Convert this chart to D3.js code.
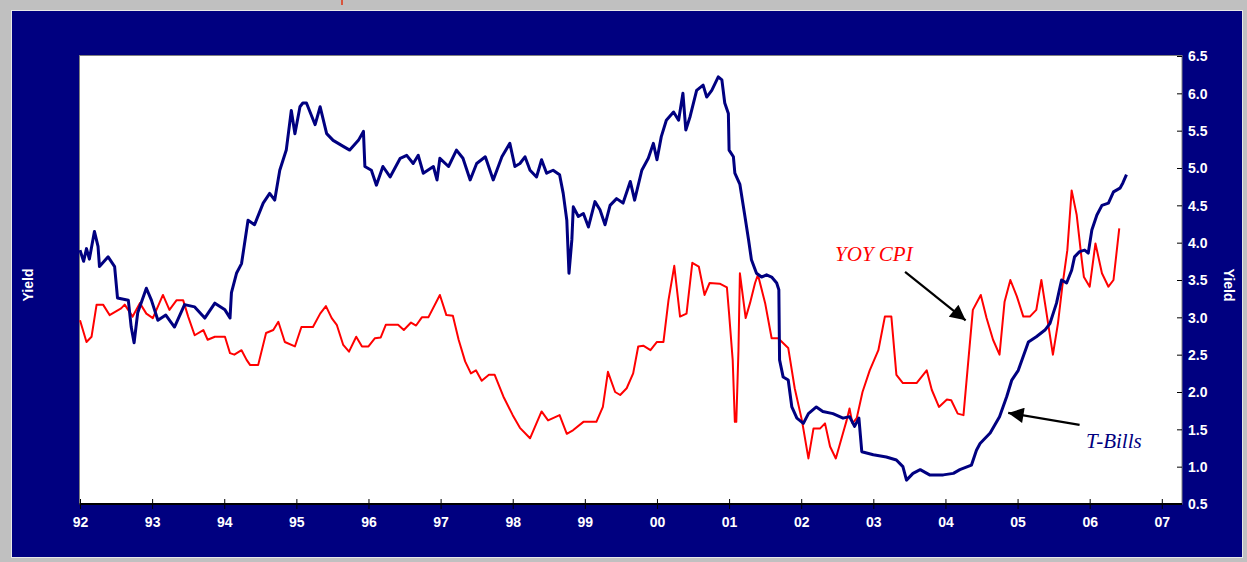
<!DOCTYPE html>
<html>
<head>
<meta charset="utf-8">
<script src="https://cdn.jsdelivr.net/npm/d3@7"></script>
<style>
  body { margin: 0; background: #c0c0c0; }
  svg { display: block; }
  .tick text { fill: #fff; font-family: "Liberation Sans", Arial, sans-serif; font-weight: bold; font-size: 14px; }
</style>
</head>
<body>
<div id="chart"></div>
<script>
// T-Bill yield (decimal years / percent)
const tbillYears = [
  1992.00, 1992.05, 1992.09, 1992.13, 1992.20, 1992.25, 1992.27, 1992.39, 1992.48, 1992.52,
  1992.67, 1992.71, 1992.75, 1992.80, 1992.92, 1992.99, 1993.08, 1993.19, 1993.31, 1993.45,
  1993.59, 1993.73, 1993.87, 1994.01, 1994.08, 1994.10, 1994.17, 1994.24, 1994.33, 1994.42,
  1994.54, 1994.63, 1994.70, 1994.77, 1994.86, 1994.93, 1994.98, 1995.05, 1995.09, 1995.14,
  1995.26, 1995.33, 1995.42, 1995.51, 1995.65, 1995.74, 1995.86, 1995.93, 1995.95, 1996.04,
  1996.11, 1996.20, 1996.30, 1996.44, 1996.53, 1996.62, 1996.69, 1996.76, 1996.90, 1996.95,
  1996.99, 1997.11, 1997.22, 1997.31, 1997.41, 1997.50, 1997.62, 1997.73, 1997.85, 1997.96,
  1998.03, 1998.10, 1998.17, 1998.24, 1998.33, 1998.40, 1998.47, 1998.56, 1998.65, 1998.70,
  1998.75, 1998.78, 1998.82, 1998.84, 1998.91, 1998.98, 1999.05, 1999.14, 1999.21, 1999.28,
  1999.35, 1999.44, 1999.53, 1999.63, 1999.69, 1999.79, 1999.88, 1999.95, 2000.00, 2000.06,
  2000.13, 2000.23, 2000.30, 2000.36, 2000.40, 2000.46, 2000.55, 2000.64, 2000.69, 2000.76,
  2000.85, 2000.90, 2000.94, 2000.99, 2001.00, 2001.06, 2001.08, 2001.15, 2001.22, 2001.27,
  2001.31, 2001.38, 2001.45, 2001.52, 2001.59, 2001.66, 2001.69, 2001.70, 2001.75, 2001.82,
  2001.87, 2001.94, 2002.03, 2002.10, 2002.21, 2002.30, 2002.44, 2002.58, 2002.67, 2002.74,
  2002.80, 2002.84, 2003.00, 2003.18, 2003.32, 2003.41, 2003.46, 2003.55, 2003.65, 2003.78,
  2003.97, 2004.11, 2004.20, 2004.36, 2004.43, 2004.48, 2004.62, 2004.75, 2004.85, 2004.92,
  2005.01, 2005.15, 2005.26, 2005.38, 2005.45, 2005.54, 2005.61, 2005.68, 2005.75, 2005.79,
  2005.86, 2005.93, 2005.98, 2006.03, 2006.10, 2006.17, 2006.26, 2006.33, 2006.42, 2006.46,
  2006.51
];
const tbillValues = [
  3.90, 3.75, 3.92, 3.78, 4.15, 3.95, 3.68, 3.81, 3.68, 3.26,
  3.23, 2.87, 2.66, 3.06, 3.39, 3.23, 2.96, 3.03, 2.87, 3.17,
  3.14, 2.99, 3.19, 3.10, 2.99, 3.33, 3.59, 3.72, 4.30, 4.24,
  4.53, 4.66, 4.57, 4.97, 5.24, 5.77, 5.46, 5.82, 5.87, 5.87,
  5.58, 5.82, 5.46, 5.37, 5.29, 5.24, 5.37, 5.49, 5.02, 4.97,
  4.77, 5.02, 4.88, 5.13, 5.17, 5.06, 5.17, 4.93, 5.02, 4.84,
  5.13, 5.02, 5.24, 5.13, 4.84, 5.06, 5.15, 4.84, 5.15, 5.33,
  5.02, 5.06, 5.15, 4.97, 4.88, 5.11, 4.93, 4.97, 4.91, 4.66,
  4.30, 3.59, 4.04, 4.48, 4.35, 4.39, 4.21, 4.55, 4.44, 4.24,
  4.50, 4.59, 4.53, 4.82, 4.57, 4.97, 5.13, 5.33, 5.11, 5.42,
  5.64, 5.75, 5.64, 6.00, 5.51, 5.69, 6.04, 6.11, 5.95, 6.04,
  6.22, 6.18, 5.87, 5.73, 5.24, 5.15, 4.93, 4.78, 4.35, 4.04,
  3.77, 3.59, 3.54, 3.57, 3.54, 3.46, 3.37, 2.43, 2.20, 2.16,
  1.80, 1.65, 1.58, 1.71, 1.80, 1.74, 1.71, 1.65, 1.67, 1.54,
  1.65, 1.20, 1.16, 1.13, 1.09, 1.00, 0.82, 0.91, 0.96, 0.89,
  0.89, 0.91, 0.96, 1.02, 1.22, 1.31, 1.45, 1.67, 1.94, 2.16,
  2.29, 2.67, 2.74, 2.83, 2.92, 3.19, 3.50, 3.46, 3.63, 3.81,
  3.88, 3.90, 3.86, 4.17, 4.37, 4.50, 4.53, 4.68, 4.73, 4.80,
  4.91
];

// year-over-year CPI
const cpiYears = [
  1992.00, 1992.09, 1992.16, 1992.23, 1992.32, 1992.41, 1992.57, 1992.62, 1992.73, 1992.83,
  1992.92, 1993.01, 1993.15, 1993.24, 1993.34, 1993.43, 1993.50, 1993.59, 1993.71, 1993.77,
  1993.87, 1994.01, 1994.08, 1994.14, 1994.24, 1994.31, 1994.36, 1994.47, 1994.58, 1994.68,
  1994.75, 1994.84, 1994.98, 1995.07, 1995.23, 1995.33, 1995.41, 1995.49, 1995.56, 1995.65,
  1995.73, 1995.83, 1995.91, 1996.00, 1996.09, 1996.17, 1996.24, 1996.41, 1996.49, 1996.59,
  1996.66, 1996.74, 1996.83, 1996.99, 1997.08, 1997.17, 1997.25, 1997.34, 1997.42, 1997.49,
  1997.57, 1997.67, 1997.75, 1997.87, 1998.00, 1998.10, 1998.24, 1998.40, 1998.49, 1998.65,
  1998.75, 1998.84, 1998.98, 1999.16, 1999.25, 1999.32, 1999.42, 1999.49, 1999.58, 1999.67,
  1999.74, 1999.81, 1999.91, 2000.00, 2000.09, 2000.16, 2000.24, 2000.32, 2000.41, 2000.49,
  2000.58, 2000.66, 2000.73, 2000.87, 2000.97, 2001.00, 2001.05, 2001.08, 2001.10, 2001.13,
  2001.15, 2001.23, 2001.29, 2001.36, 2001.40, 2001.50, 2001.59, 2001.68, 2001.82, 2001.91,
  2002.01, 2002.10, 2002.17, 2002.26, 2002.33, 2002.40, 2002.48, 2002.58, 2002.63, 2002.67,
  2002.71, 2002.77, 2002.85, 2002.95, 2003.07, 2003.16, 2003.25, 2003.32, 2003.41, 2003.60,
  2003.74, 2003.81, 2003.91, 2004.02, 2004.08, 2004.17, 2004.25, 2004.38, 2004.49, 2004.57,
  2004.66, 2004.75, 2004.82, 2004.90, 2004.99, 2005.08, 2005.17, 2005.26, 2005.33, 2005.38,
  2005.49, 2005.56, 2005.62, 2005.69, 2005.75, 2005.82, 2005.89, 2005.92, 2006.00, 2006.08,
  2006.17, 2006.26, 2006.33, 2006.41
];
const cpiValues = [
  2.96, 2.67, 2.74, 3.17, 3.17, 3.03, 3.12, 3.17, 3.01, 3.19,
  3.05, 2.99, 3.30, 3.10, 3.23, 3.23, 3.01, 2.76, 2.83, 2.70,
  2.74, 2.74, 2.52, 2.50, 2.56, 2.43, 2.36, 2.36, 2.79, 2.83,
  2.94, 2.67, 2.61, 2.87, 2.87, 3.05, 3.15, 2.99, 2.90, 2.63,
  2.54, 2.74, 2.61, 2.61, 2.72, 2.73, 2.90, 2.90, 2.83, 2.93,
  2.89, 3.00, 3.00, 3.30, 3.03, 3.02, 2.70, 2.41, 2.25, 2.29,
  2.15, 2.23, 2.23, 1.94, 1.69, 1.52, 1.38, 1.74, 1.62, 1.69,
  1.44, 1.49, 1.60, 1.60, 1.80, 2.27, 2.00, 1.96, 2.05, 2.25,
  2.61, 2.62, 2.56, 2.67, 2.67, 3.23, 3.69, 3.01, 3.05, 3.73,
  3.68, 3.30, 3.46, 3.45, 3.40, 3.05, 2.43, 1.60, 1.60, 2.56,
  3.59, 2.99, 3.19, 3.46, 3.57, 3.19, 2.72, 2.72, 2.59, 2.05,
  1.62, 1.11, 1.51, 1.51, 1.58, 1.27, 1.11, 1.45, 1.62, 1.78,
  1.58, 1.65, 2.00, 2.29, 2.56, 3.01, 3.01, 2.23, 2.12, 2.12,
  2.29, 2.03, 1.80, 1.90, 1.89, 1.71, 1.69, 3.10, 3.30, 2.99,
  2.70, 2.50, 3.21, 3.50, 3.28, 3.01, 3.01, 3.10, 3.50, 3.19,
  2.50, 2.92, 3.41, 3.90, 4.70, 4.37, 3.77, 3.54, 3.41, 3.99,
  3.59, 3.41, 3.50, 4.19
];

const yearTicks = d3.range(1992, 2008);
const yieldTicks = d3.range(0.5, 6.51, 0.5);

// annotations: [label x, label y, arrow from, arrow to] in data units
const cpiNote = { text: 'YOY CPI', at: [2002.47, 3.75], from: [2003.44, 3.61], to: [2004.28, 2.96] };
const tbillNote = { text: 'T-Bills', at: [2005.95, 1.25], from: [2005.86, 1.56], to: [2004.87, 1.72] };

function draw() {
    const width = 1247;
    const height = 562;
    const plot = { left: 79.5, right: 1182, top: 55.5, bottom: 504 };

    const svg = d3.select('#chart').append('svg')
        .attr('width', width).attr('height', height);

    // frame
    svg.append('rect').attr('x', 0).attr('y', 0).attr('width', width).attr('height', height).attr('fill', '#c0c0c0');
    svg.append('rect').attr('x', 11.5).attr('y', 10.5).attr('width', 1231).attr('height', 547)
        .attr('fill', '#000080').attr('stroke', '#e8e8e8').attr('stroke-width', 1);
    svg.append('line').attr('x1', 342).attr('x2', 342).attr('y1', 0).attr('y2', 5)
        .attr('stroke', '#e03010').attr('stroke-width', 1.5);

    svg.append('rect')
        .attr('x', plot.left).attr('y', plot.top)
        .attr('width', plot.right - plot.left).attr('height', plot.bottom - plot.top)
        .attr('fill', '#fff').attr('stroke', '#808080').attr('stroke-width', 1);

    const x = d3.scaleLinear().domain([1992, 2007.28]).range([80, plot.right]);
    const y = d3.scaleLinear().domain([0.5, 6.5]).range([plot.bottom, 56]);

    const svgDefs = svg.append('defs');
    svgDefs.append('marker').attr('id', 'head')
        .attr('viewBox', '0 0 10 10').attr('refX', 10).attr('refY', 5)
        .attr('markerWidth', 8).attr('markerHeight', 7).attr('orient', 'auto')
        .append('path').attr('d', 'M0,0 L10,5 L0,10 Z').attr('fill', '#000');

    const line = d3.line().x((d) => x(d[0])).y((d) => y(d[1]));
    const cpi = cpiYears.map((d, i) => [d, cpiValues[i]]);
    const tbill = tbillYears.map((d, i) => [d, tbillValues[i]]);

    svg.append('path').datum(cpi).attr('d', line)
        .attr('fill', 'none').attr('stroke', '#ff0000').attr('stroke-width', 2).attr('stroke-linejoin', 'round');
    svg.append('path').datum(tbill).attr('d', line)
        .attr('fill', 'none').attr('stroke', '#000080').attr('stroke-width', 3).attr('stroke-linejoin', 'round');

    // x axis
    const xAxis = svg.append('g').attr('transform', `translate(0, ${plot.bottom})`)
        .call(d3.axisBottom(x).tickValues(yearTicks)
            .tickFormat((d) => String(d % 100).padStart(2, '0'))
            .tickSize(5).tickPadding(5));
    xAxis.select('.domain').attr('stroke', '#000').attr('stroke-width', 2).attr('d', `M${plot.left},0H${plot.right}`);
    xAxis.selectAll('line').attr('stroke', '#000').attr('y1', -5);
    xAxis.selectAll('text').attr('dy', '0.9em');

    // y axis on the right
    const yAxis = svg.append('g').attr('transform', `translate(${plot.right}, 0)`)
        .call(d3.axisRight(y).tickValues(yieldTicks).tickFormat(d3.format('.1f'))
            .tickSize(0).tickPadding(6));
    yAxis.select('.domain').remove();
    yAxis.selectAll('line').attr('stroke', '#000').attr('x1', -5).attr('x2', 0);
    yAxis.selectAll('text').attr('dy', '0.35em');

    // axis titles
    svg.append('text').attr('transform', 'translate(33, 285) rotate(-90)')
        .attr('text-anchor', 'middle').attr('fill', '#fff')
        .style('font', 'bold 14px "Liberation Sans", Arial, sans-serif').text('Yield');
    svg.append('text').attr('transform', 'translate(1224, 285) rotate(90)')
        .attr('text-anchor', 'middle').attr('fill', '#fff')
        .style('font', 'bold 14px "Liberation Sans", Arial, sans-serif').text('Yield');

    // notes with arrows
    [[cpiNote, '#ff0000'], [tbillNote, '#000080']].forEach(([n, col]) => {
        svg.append('line')
            .attr('x1', x(n.from[0])).attr('y1', y(n.from[1]))
            .attr('x2', x(n.to[0])).attr('y2', y(n.to[1]))
            .attr('stroke', '#000').attr('stroke-width', 2.2).attr('marker-end', 'url(#head)');
        svg.append('text').attr('x', x(n.at[0])).attr('y', y(n.at[1]))
            .attr('fill', col)
            .style('font', 'italic 21px "Liberation Serif", "Times New Roman", serif')
            .text(n.text);
    });
}

document.addEventListener('DOMContentLoaded', draw);
</script>
</body>
</html>
